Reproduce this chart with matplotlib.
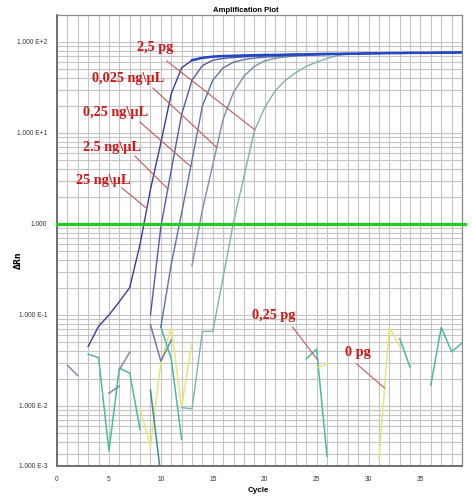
"""Amplification plot (qPCR, log dRn vs cycle) recreated with matplotlib."""

import numpy as np
import matplotlib

matplotlib.use("Agg")
import matplotlib.pyplot as plt
from matplotlib.ticker import FixedLocator, LogLocator, MultipleLocator, NullFormatter

# ---- data -----------------------------------------------------------------
THRESHOLD = 1.0
X_MAX = 39
Y_MIN, Y_MAX = 0.00219, 198.0
X_TICKS = [0, 5, 10, 15, 20, 25, 30, 35]
Y_TICKS = [100, 10, 1, 0.1, 0.01, Y_MIN]
Y_TICK_LABELS = ["1.000 E+2", "1.000 E+1", "1.000", "1.000 E-1", "1.000 E-2", "1.000 E-3"]

# amplification curves: (first cycle, dRn per cycle)
CURVE_25NG = (3, [0.045, 0.075, 0.10, 0.14, 0.20, 0.60, 2.4, 7.8, 27, 52,
                  63, 67, 69, 70, 70.5, 71, 71.5, 72, 72, 72.5,
                  73, 73, 73.5, 74, 74, 74.5, 74.5, 75, 75, 75.5,
                  75.5, 76, 76, 76, 76.5, 76.5, 77])
CURVE_2_5NG = (9, [0.10, 0.93, 3.9, 16, 38, 55, 63, 66, 67.5, 68.5,
                   69.5, 70, 71, 71.5, 72, 72.5, 73, 73.5, 74, 74,
                   74.5, 75, 75, 75.5, 75.5, 76, 76, 76, 76.5, 76.5, 76.5])
CURVE_0_25NG = (10, [0.074, 0.36, 1.32, 5.0, 19.8, 38, 52, 60, 64, 66.5,
                     68, 69, 70, 71, 72, 72.5, 73, 73.5, 74, 74.5,
                     75, 75, 75.5, 75.5, 76, 76, 76, 76.5, 76.5, 76.5])
CURVE_0_025NG = (13, [0.35, 1.43, 4.45, 14.3, 28, 42, 54, 62, 66, 68.5,
                      70, 71, 72, 72.5, 73, 73.5, 74, 74.5, 75, 75,
                      75.5, 75.5, 76, 76, 76, 76.5, 76.5])
CURVE_2_5PG = (12, [0.0096, 0.0093, 0.066, 0.066, 0.26, 1.05, 3.3, 10.5, 19, 29,
                    38, 46, 54, 60, 66, 71, 73, 74, 74.5, 75,
                    75.5, 75.5, 76, 76, 76.5, 76.5, 76.5, 77])

# baseline noise fragments: (first cycle, dRn per cycle)
NOISE_A = (1, [0.028, 0.0215])
NOISE_B = (3, [0.037, 0.034, 0.0032, 0.026, 0.023, 0.0055])
NOISE_C = (5, [0.0138, 0.0165])
NOISE_D = (6, [0.025, 0.039])
NOISE_E = (8, [0.0093, 0.0036, 0.030, 0.073, 0.0096, 0.051])
NOISE_F = (9, [0.015, 0.0017])
NOISE_G = (9, [0.078, 0.031, 0.053])
NOISE_H = (10, [0.074, 0.033, 0.0043])
NOISE_0_25PG = (24, [0.033, 0.042, 0.0028])
NOISE_I = (25, [0.026, 0.029])
NOISE_0PG = (31, [0.0026, 0.073, 0.045])
NOISE_J = (33, [0.055, 0.0266])
NOISE_K = (36, [0.017, 0.073, 0.0395, 0.049])

# labels: text, text cycle, text dRn, pointer start cycle, start dRn, series, pointer end cycle
LABELS = [
    ("2,5 pg", 7.69, 85.9, 10.58, 61.8, CURVE_2_5PG, 19.05),
    ("0,025 ng\\µL", 3.37, 39.2, 9.23, 31.2, CURVE_0_025NG, 15.38),
    ("0,25 ng\\µL", 2.5, 16.6, 7.98, 13.2, CURVE_0_25NG, 12.88),
    ("2.5 ng\\µL", 2.5, 6.84, 7.5, 5.58, CURVE_2_5NG, 10.67),
    ("25 ng\\µL", 1.83, 2.97, 6.25, 2.49, CURVE_25NG, 8.65),
    ("0,25 pg", 18.75, 0.0975, 22.69, 0.0738, NOISE_0_25PG, 25.1),
    ("0 pg", 27.69, 0.039, 28.85, 0.029, NOISE_0PG, 31.54),
]


def series_xy(series):
    start, values = series
    values = np.asarray(values, dtype=float)
    return np.arange(start, start + len(values)), values


def value_on(series, cycle):
    x, y = series_xy(series)
    return 10 ** np.interp(cycle, x, np.log10(y))


# ---- figure ---------------------------------------------------------------
fig = plt.figure(figsize=(4.72, 4.98), dpi=100)
ax = fig.add_axes([0.1208, 0.0643, 0.858, 0.9056])
ax.set_yscale("log")
ax.set_xlim(0, X_MAX)
ax.set_ylim(Y_MIN, Y_MAX)

ax.xaxis.set_minor_locator(MultipleLocator(1))
ax.xaxis.set_major_locator(FixedLocator(X_TICKS))
ax.yaxis.set_major_locator(FixedLocator(Y_TICKS))
ax.yaxis.set_minor_locator(LogLocator(base=10, subs=range(2, 10), numticks=20))
ax.yaxis.set_minor_formatter(NullFormatter())
ax.set_yticklabels(Y_TICK_LABELS)
ax.grid(True, which="both", axis="both", color="#c4c4c4", linewidth=0.8)
ax.set_axisbelow(True)
ax.tick_params(which="both", length=0)
ax.tick_params(axis="both", labelsize=4.8, colors="#333333", pad=7)
for label in ax.get_xticklabels() + ax.get_yticklabels():
    label.set_family("Liberation Sans")

for side in ("left", "bottom"):
    ax.spines[side].set_color("#707070")
    ax.spines[side].set_linewidth(1.4)
for side in ("top", "right"):
    ax.spines[side].set_color("#8a8a8a")
    ax.spines[side].set_linewidth(0.9)

noise_styles = [
    (NOISE_A, "#8a8aa6"), (NOISE_B, "#4fb9a0"), (NOISE_C, "#7a8aa8"),
    (NOISE_D, "#8a8aa6"), (NOISE_E, "#e6e67a"), (NOISE_F, "#3f8f90"),
    (NOISE_G, "#6f7ea6"), (NOISE_H, "#4fb9a0"), (NOISE_0_25PG, "#4fb9a0"),
    (NOISE_I, "#e6e67a"), (NOISE_0PG, "#e6e67a"), (NOISE_J, "#4fb9a0"),
    (NOISE_K, "#4fb9a0"),
]
for series, color in noise_styles:
    x, y = series_xy(series)
    ax.plot(x, y, color=color, linewidth=1.1)

curve_styles = [
    (CURVE_2_5PG, "#7fb0b2"),
    (CURVE_0_025NG, "#7890aa"),
    (CURVE_0_25NG, "#5a72aa"),
    (CURVE_2_5NG, "#5858aa"),
    (CURVE_25NG, "#3a3e98"),
]
for series, color in curve_styles:
    x, y = series_xy(series)
    ax.plot(x, y, color=color, linewidth=1.0)

# the overlapping plateau reads as one heavy blue line
x, y = series_xy(CURVE_25NG)
ax.plot(x[10:], y[10:], color="#2446c6", linewidth=1.8)

ax.axhline(THRESHOLD, xmin=0, xmax=1.008, color="#22cc22", linewidth=2.3, clip_on=False, zorder=4)

for text, tx, ty, sx, sy, series, end_cycle in LABELS:
    ax.plot([sx, end_cycle], [sy, value_on(series, end_cycle)],
            color="#c05a5a", linewidth=0.8, zorder=5)
    ax.text(tx, ty, text, ha="left", va="center", color="#cc1a1a",
            fontsize=10.3, fontweight="bold", family="Liberation Serif", zorder=6)

fig.text(246 / 472, 1 - 10 / 498, "Amplification Plot", ha="center", va="center",
         fontsize=5.6, fontweight="bold", family="Liberation Sans")
fig.text(258 / 472, 1 - 490 / 498, "Cycle", ha="center", va="center",
         fontsize=5.8, fontweight="bold", family="Liberation Sans")
fig.text(18 / 472, 1 - 260 / 498, "ΔRn", ha="center", va="center", rotation=90,
         fontsize=5.6, fontweight="bold", family="DejaVu Sans")

fig.savefig("out.png", dpi=100)
